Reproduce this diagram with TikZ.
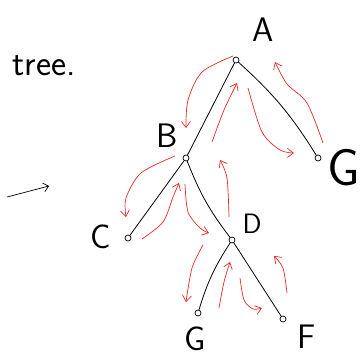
\documentclass[tikz,border=0pt]{standalone}
\usepackage{tikz}
\usetikzlibrary{positioning,arrows.meta}
\usepackage{xcolor}
\definecolor{penred}{RGB}{232,40,40}

\begin{document}
\begin{tikzpicture}[x=1pt,y=-1pt,
    dot/.style={circle,draw,inner sep=0pt,minimum size=6pt,line width=0.7pt},
    lbl/.style={font=\fontsize{34}{34}\selectfont\sffamily},
    edge/.style={line width=0.8pt},
    trav/.style={penred,line width=0.7pt,-{Straight Barb[length=6pt,width=9pt]}}]
      \useasboundingbox (0,0) rectangle (364,357);
      % Title and arrow
      \node[font=\fontsize{36}{36}\selectfont\sffamily] (title) at (44,66) {tree.};
      \coordinate (ar0) at (7,197);
      \coordinate (ar1) at (49,186);
      \draw[line width=0.7pt,-{Straight Barb[length=5pt,width=9pt]}] (ar0) -- (ar1);
      % Tree nodes
      \node[dot] (A) at (236,60) {};
      \node[dot] (B) at (186,158) {};
      \node[dot] (G) at (318,158) {};
      \node[dot] (C) at (128,238) {};
      \node[dot] (D) at (232,240) {};
      \node[dot] (E) at (198,313) {};
      \node[dot] (F) at (283,319) {};
      % Labels
      \node[lbl] (lA) at (263,30) {A};
      \node[lbl] (lB) at (167,136) {B};
      \node[lbl,font=\fontsize{52}{52}\selectfont\sffamily] (lG) at (344,168) {G};
      \node[lbl] (lC) at (101,237) {C};
      \node[lbl,font=\fontsize{28}{28}\selectfont\sffamily] (lD) at (252,224) {D};
      \node[lbl] (lE) at (195,339) {G};
      \node[lbl] (lF) at (307,337) {F};
      % Edges
      \draw[edge] (A) -- (B);
      \draw[edge] (A) to[bend left=8] (G);
      \draw[edge] (B) -- (C);
      \draw[edge] (B) to[bend right=8] (D);
      \draw[edge] (D) to[bend right=8] (E);
      \draw[edge] (D) -- (F);
      % Traversal
      \draw[trav] plot[smooth] coordinates {(233,56) (202,72) (188,100) (186,128)};
      \draw[trav] plot[smooth] coordinates {(212,142) (224,110) (237,83)};
      \draw[trav] plot[smooth] coordinates {(248,88) (262,132) (280,150) (294,153)};
      \draw[trav] plot[smooth] coordinates {(323,143) (307,103) (287,84) (275,62)};
      \draw[trav] plot[smooth] coordinates {(175,156) (141,173) (126,198) (126,217)};
      \draw[trav] plot[smooth] coordinates {(142,239) (163,222) (173,197) (179,183)};
      \draw[trav] plot[smooth] coordinates {(185,184) (188,212) (200,228) (209,233)};
      \draw[trav] plot[smooth] coordinates {(229,217) (227,178) (220,160)};
      \draw[trav] plot[smooth] coordinates {(203,245) (192,268) (186,302)};
      \draw[trav] plot[smooth] coordinates {(219,308) (224,282) (230,262)};
      \draw[trav] plot[smooth] coordinates {(240,278) (244,300) (253,309) (262,308)};
      \draw[trav] plot[smooth] coordinates {(287,293) (283,268) (274,256)};
    \end{tikzpicture}
\end{document}
